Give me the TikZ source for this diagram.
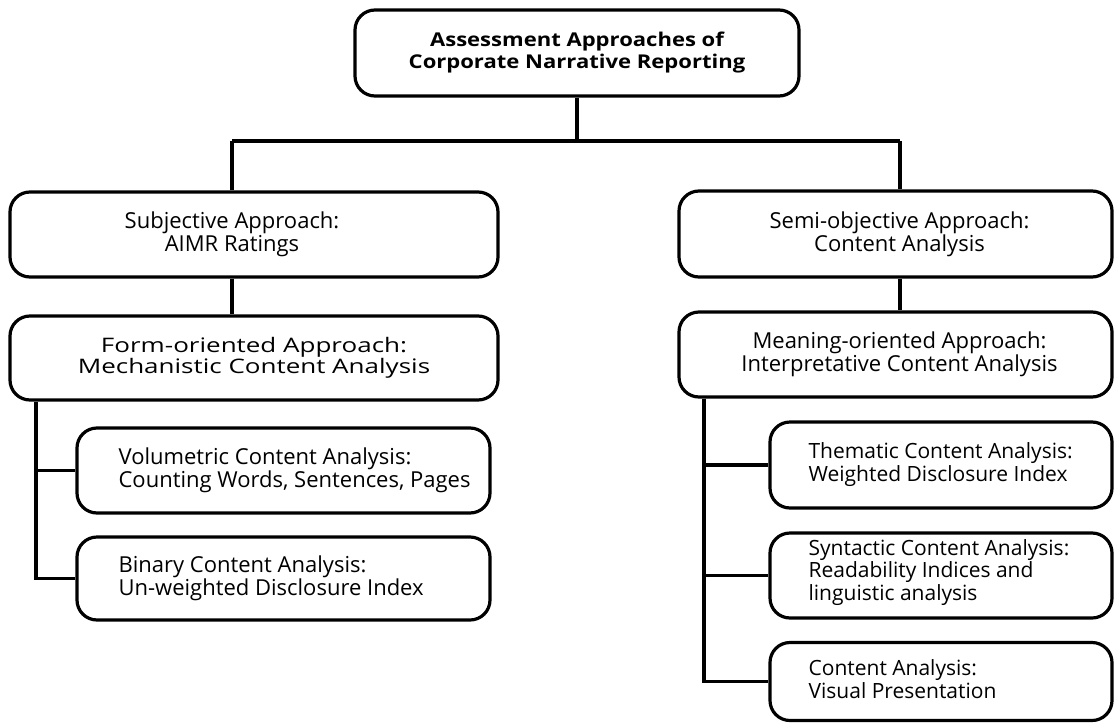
\documentclass[tikz,border=0pt]{standalone}
\usepackage{fontspec}
\setmainfont{Open Sans}

\begin{document}
\begin{tikzpicture}[x=1pt, y=-1pt,
        box/.style = {draw, line width=3.2pt, rounded corners=20pt, inner sep=0pt,
                      align=center, font=\fontsize{22}{23}\selectfont},
        inset/.style = {anchor=west, xshift=#1, align=left, inner sep=0pt,
                        font=\fontsize{22}{23}\selectfont},
        wire/.style = {line width=3.2pt}]
        \useasboundingbox (0,0) rectangle (1115,725);
        \clip (0,0) rectangle (1115,725);

        % top of the tree
        \node[box, minimum width=444pt, minimum height=86pt,
              font=\fontsize{19}{22}\selectfont\bfseries\addfontfeatures{FakeStretch=1.16}]
              (root) at (577,53) {Assessment Approaches of\\Corporate Narrative Reporting};

        % left branch
        \node[box, minimum width=488pt, minimum height=85pt,
              label={[align=center, xshift=-22pt, font=\fontsize{22}{23}\selectfont]center:Subjective Approach:\\AIMR Ratings}]
              (subj) at (254,234.5) {};
        \node[box, minimum width=488pt, minimum height=84pt,
              font=\fontsize{20}{21.5}\selectfont\addfontfeatures{FakeStretch=1.3}]
              (form) at (254,358) {Form-oriented Approach:\\Mechanistic Content Analysis};
        \node[box, minimum width=413pt, minimum height=85pt,
              label={[inset=43pt]west:Volumetric Content Analysis:\\Counting Words, Sentences, Pages}]
              (vol) at (283.5,470.5) {};
        \node[box, minimum width=413pt, minimum height=83pt,
              label={[inset=43pt]west:Binary Content Analysis:\\Un-weighted Disclosure Index}]
              (bin) at (283.5,578.5) {};

        % right branch
        \node[box, minimum width=433pt, minimum height=86pt,
              label={[align=center, xshift=4pt, font=\fontsize{22}{23}\selectfont]center:Semi-objective Approach:\\Content Analysis}]
              (semi) at (895.5,234) {};
        \node[box, minimum width=433pt, minimum height=85pt,
              label={[align=center, xshift=4pt, font=\fontsize{22}{23}\selectfont]center:Meaning-oriented Approach:\\Interpretative Content Analysis}]
              (mean) at (895.5,354.5) {};
        \node[box, minimum width=342pt, minimum height=86pt,
              label={[inset=40pt, font=\fontsize{21}{23}\selectfont]west:Thematic Content Analysis:\\Weighted Disclosure Index}]
              (them) at (941,465) {};
        \node[box, minimum width=342pt, minimum height=85pt,
              label={[inset=40pt, yshift=3pt, font=\fontsize{21}{22.5}\selectfont]west:Syntactic Content Analysis:\\Readability Indices and\\linguistic analysis}]
              (synt) at (941,575.5) {};
        \node[box, minimum width=342pt, minimum height=78pt,
              label={[inset=40pt, yshift=2pt, font=\fontsize{21}{23}\selectfont]west:Content Analysis:\\Visual Presentation}]
              (cont) at (941,681.5) {};

        % connectors
        \coordinate (hubL) at (232,141);
        \coordinate (hubR) at (900,141);
        \coordinate (trunkL) at (36,0);
        \coordinate (trunkR) at (704,0);

        \draw[wire] (root.south) -- (root.south |- hubL);
        \draw[wire] (hubL) -- (hubR);
        \draw[wire] (hubL) -- (hubL |- subj.north);
        \draw[wire] (hubR) -- (hubR |- semi.north);
        \draw[wire] (hubL |- subj.south) -- (hubL |- form.north);
        \draw[wire] (hubR |- semi.south) -- (hubR |- mean.north);

        \draw[wire] (trunkL |- form.south) |- (vol.west);
        \draw[wire] (trunkL |- form.south) |- (bin.west);

        \draw[wire] (trunkR |- mean.south) |- (them.west);
        \draw[wire] (trunkR |- mean.south) |- (synt.west);
        \draw[wire] (trunkR |- mean.south) |- (cont.west);
    \end{tikzpicture}
\end{document}
